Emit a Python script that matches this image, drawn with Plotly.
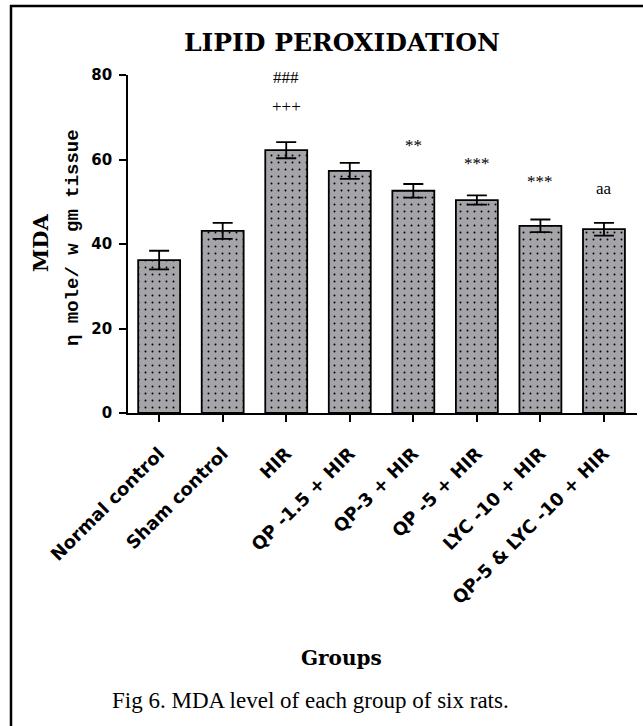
import plotly.graph_objects as go

groups = ["Normal control", "Sham control", "HIR", "QP -1.5 + HIR", "QP-3 + HIR",
          "QP -5 + HIR", "LYC -10 + HIR", "QP-5 & LYC -10 + HIR"]
mda_mean = [36.2, 43.1, 62.2, 57.3, 52.6, 50.4, 44.3, 43.5]
mda_sem = [2.2, 1.9, 1.9, 1.9, 1.6, 1.1, 1.5, 1.5]

sig_groups = ["HIR", "HIR", "QP-3 + HIR", "QP -5 + HIR", "LYC -10 + HIR", "QP-5 & LYC -10 + HIR"]
sig_labels = ["###", "+++", "**", "***", "***", "aa"]
sig_y = [79.3, 72.5, 63.2, 59.0, 54.7, 53.2]

W, H = 643, 726
L, R, T, B = 128, 6, 75, 313
pw, ph = W - L - R, H - T - B

def px(x):
    return (x - L) / pw

def py(y):
    return (H - B - y) / ph

fig = go.Figure()
fig.add_trace(go.Bar(
    x=groups, y=mda_mean, width=0.66,
    marker=dict(color="#a4a4a9", line=dict(color="black", width=1.8),
                pattern=dict(shape=".", size=7, solidity=0.06, fgcolor="black",
                             bgcolor="#a4a4a9", fillmode="replace")),
    error_y=dict(type="data", array=mda_sem, visible=True, color="black",
                 thickness=1.8, width=10),
    showlegend=False,
))

for g, t, yv in zip(sig_groups, sig_labels, sig_y):
    fig.add_annotation(x=g, y=yv, text=t, showarrow=False, xref="x", yref="y",
                       xanchor="center", yanchor="middle",
                       font=dict(family="Liberation Serif", size=17, color="#000000"))

def note(x, y, text, family, size, angle=0):
    fig.add_annotation(x=px(x), y=py(y), xref="paper", yref="paper", text=text,
                       showarrow=False, xanchor="center", yanchor="middle", textangle=angle,
                       font=dict(family=family, size=size, color="black"))

note(342, 43, "<b>LIPID PEROXIDATION</b>", "DejaVu Serif", 25)
note(40, 243, "<b>MDA</b>", "DejaVu Serif", 21, -90)
note(73, 238, "<b>η mole/ w gm tissue</b>", "Liberation Mono", 19, -90)
note(341, 658, "<b>Groups</b>", "DejaVu Serif", 20)
note(310, 700, "Fig 6. MDA level of each group of six rats.", "Liberation Serif", 23)

# page frame
fig.add_shape(type="line", xref="paper", yref="paper", x0=px(10), x1=px(660), y0=py(6), y1=py(6),
              line=dict(color="black", width=2.5))
fig.add_shape(type="line", xref="paper", yref="paper", x0=px(11), x1=px(11), y0=py(5), y1=py(740),
              line=dict(color="black", width=2.5))

fig.update_layout(
    width=W, height=H, margin=dict(l=L, r=R, t=T, b=B),
    plot_bgcolor="white", paper_bgcolor="white",
    bargap=0.34,
)
fig.update_xaxes(range=[-0.49, 7.52], showline=True, linecolor="black", linewidth=1.8,
                 ticks="outside", ticklen=7, tickwidth=1.5, tickcolor="black",
                 tickangle=-45, ticklabelstandoff=14,
                 tickfont=dict(family="DejaVu Sans", size=18, color="black", weight="bold"),
                 showgrid=False, zeroline=False)
fig.update_yaxes(range=[0, 80], tickvals=[0, 20, 40, 60, 80], showline=True, linecolor="black",
                 linewidth=1.8, ticks="outside", ticklen=7, tickwidth=1.5, tickcolor="black",
                 ticklabelstandoff=4,
                 tickfont=dict(family="DejaVu Sans", size=15, color="black", weight="bold"),
                 showgrid=False, zeroline=False)

fig.write_html("out.html", config={"displayModeBar": False},
               post_script="document.body.style.margin='0';")
